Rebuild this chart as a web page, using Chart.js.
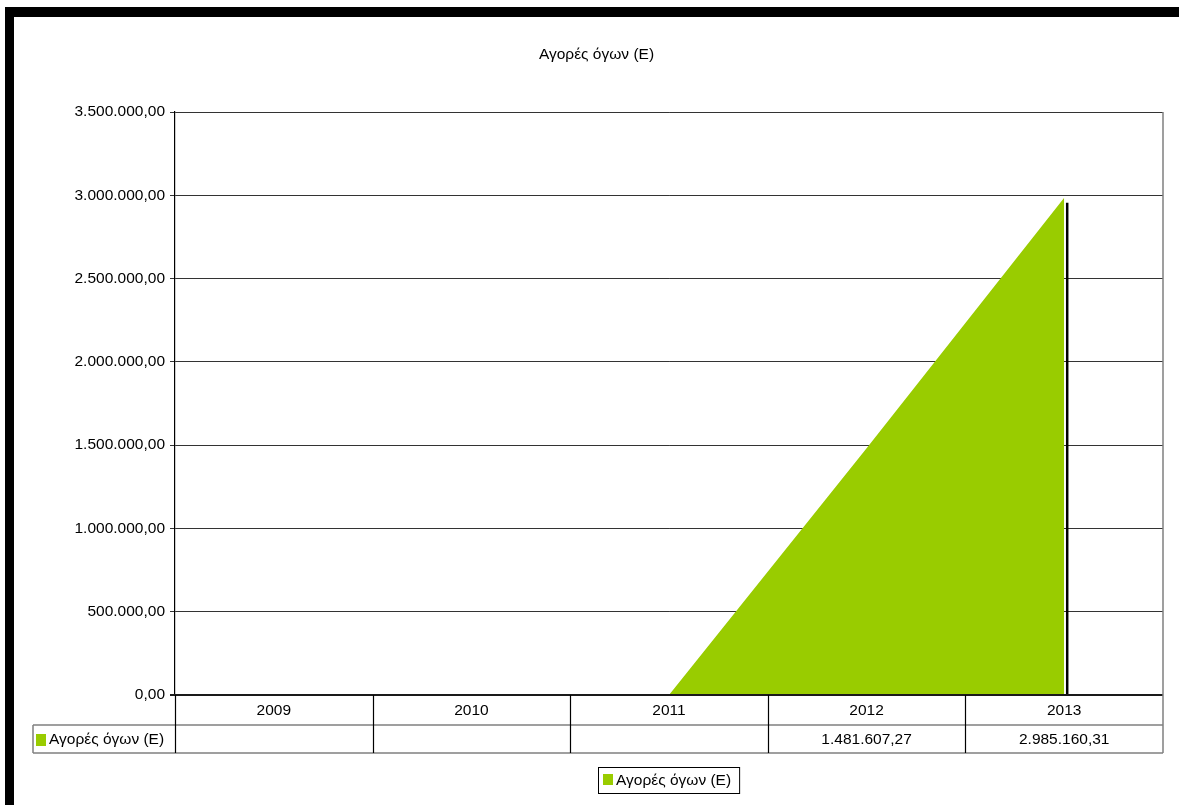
<!DOCTYPE html>
<html>
<head>
<meta charset="utf-8">
<script src="https://cdn.jsdelivr.net/npm/chart.js@4/dist/chart.umd.min.js"></script>
<style>
  html, body { margin: 0; padding: 0; background: #fff; }
  #wrap { position: absolute; left: 0; top: 0; width: 1179px; height: 805px; }
  #c { position: absolute; left: 0; top: 0; }
  .bar { position: absolute; background: #000; }
</style>
</head>
<body>
<div id="wrap">
  <canvas id="c" width="1179" height="805"></canvas>
  <div class="bar" style="left:5px;top:7px;width:1174px;height:10px;"></div>
  <div class="bar" style="left:5px;top:7px;width:9px;height:798px;"></div>
</div>
<script>
const chartTitle = 'Αγορές όγων (Ε)';
const seriesName = 'Αγορές όγων (Ε)';
const categories = ['2009', '2010', '2011', '2012', '2013'];
const seriesValues = [null, null, null, 1481607.27, 2985160.31];
const yTicks = [0, 500000, 1000000, 1500000, 2000000, 2500000, 3000000, 3500000];

const FONT = '15.5px "Liberation Sans", Arial, sans-serif';
const GREEN = '#99cc00';

function fmt(v) {
  const neg = v < 0;
  v = Math.abs(v);
  const fixed = v.toFixed(2);
  let [intPart, dec] = fixed.split('.');
  intPart = intPart.replace(/\B(?=(\d{3})+(?!\d))/g, '.');
  return (neg ? '-' : '') + intPart + ',' + dec;
}

const decor = {
  id: 'decor',
  afterDatasetsDraw(chart) {
    const ctx = chart.ctx;
    const area = chart.chartArea;
    const xs = chart.scales.x;
    const ys = chart.scales.y;
    // shadow edge at the last point
    const meta = chart.getDatasetMeta(0);
    const last = meta.data[meta.data.length - 1];
    ctx.save();
    ctx.strokeStyle = '#000';
    ctx.lineWidth = 2.5;
    ctx.beginPath();
    ctx.moveTo(last.x + 3, last.y + 5);
    ctx.lineTo(last.x + 3, area.bottom);
    ctx.stroke();
    // baseline
    ctx.lineWidth = 2;
    ctx.strokeStyle = '#1a1a1a';
    ctx.beginPath();
    ctx.moveTo(area.left - 5, area.bottom);
    ctx.lineTo(area.right, area.bottom);
    ctx.stroke();
    ctx.restore();
  },
  afterDraw(chart) {
    const ctx = chart.ctx;
    const area = chart.chartArea;
    const xs = chart.scales.x;
    const n = categories.length;
    const colW = (area.right - area.left) / n;
    const row1Top = area.bottom, row1Bot = area.bottom + 30;
    const row2Bot = row1Bot + 28;
    const labelLeft = 33;
    ctx.save();
    // title
    ctx.font = FONT;
    ctx.fillStyle = '#000';
    ctx.textAlign = 'center';
    ctx.textBaseline = 'middle';
    ctx.fillText(chartTitle, (14 + chart.width) / 2, 55);

    // table horizontal lines (gray)
    ctx.strokeStyle = '#808080';
    ctx.lineWidth = 1.5;
    ctx.beginPath();
    ctx.moveTo(labelLeft, row1Bot); ctx.lineTo(area.right, row1Bot);
    ctx.moveTo(labelLeft, row2Bot); ctx.lineTo(area.right, row2Bot);
    ctx.moveTo(labelLeft, row1Bot); ctx.lineTo(labelLeft, row2Bot);
    ctx.moveTo(area.right, area.top); ctx.lineTo(area.right, row2Bot);
    ctx.stroke();
    // vertical separators (black)
    ctx.strokeStyle = '#000';
    ctx.lineWidth = 1.2;
    ctx.beginPath();
    for (let i = 0; i < n; i++) {
      const x = Math.round(area.left + i * colW) + 0.5;
      ctx.moveTo(x, row1Top); ctx.lineTo(x, row2Bot);
    }
    ctx.stroke();
    // texts
    ctx.fillStyle = '#000';
    ctx.textAlign = 'center';
    for (let i = 0; i < n; i++) {
      const cx = xs.getPixelForValue(i);
      ctx.fillText(categories[i], cx, (row1Top + row1Bot) / 2 + 1);
      if (seriesValues[i] !== null) ctx.fillText(fmt(seriesValues[i]), cx, (row1Bot + row2Bot) / 2 + 1);
    }
    // series label
    ctx.fillStyle = GREEN;
    ctx.fillRect(36, 734, 10, 12);
    ctx.fillStyle = '#000';
    ctx.textAlign = 'left';
    ctx.fillText(seriesName, 49, (row1Bot + row2Bot) / 2 + 1);

    // legend
    const tw = ctx.measureText(seriesName).width;
    const boxW = tw + 26, boxH = 26;
    const bx = Math.round((area.left + area.right) / 2 - boxW / 2);
    const by = 767;
    ctx.strokeStyle = '#000';
    ctx.lineWidth = 1;
    ctx.strokeRect(bx + 0.5, by + 0.5, boxW, boxH);
    ctx.fillStyle = GREEN;
    ctx.fillRect(bx + 5, by + 7, 10, 11);
    ctx.fillStyle = '#000';
    ctx.fillText(seriesName, bx + 18, by + boxH / 2 + 1);
    ctx.restore();
  }
};

new Chart(document.getElementById('c'), {
  type: 'line',
  data: {
    labels: categories,
    datasets: [{
      label: seriesName,
      data: seriesValues.map(v => v === null ? 0 : v),
      backgroundColor: GREEN,
      borderWidth: 0,
      borderColor: GREEN,
      pointRadius: 0,
      fill: 'origin',
      tension: 0
    }]
  },
  options: {
    responsive: false,
    animation: false,
    layout: { padding: { top: 112, bottom: 110, right: 16, left: 0 } },
    plugins: { legend: { display: false }, title: { display: false }, tooltip: { enabled: false } },
    scales: {
      x: { type: 'category', display: false, offset: true },
      y: {
        min: 0, max: 3500000,
        afterBuildTicks(scale) { scale.ticks = yTicks.map(v => ({ value: v })); },
        afterFit(scale) { scale.width = 175; },
        ticks: { color: '#000', font: { family: '"Liberation Sans", Arial, sans-serif', size: 15.5 }, padding: 5, callback: v => fmt(v) },
        grid: { color: '#333', lineWidth: 1, tickLength: 5, tickColor: '#333' },
        border: { display: true, color: '#000', width: 1.2 }
      }
    }
  },
  plugins: [decor]
});
</script>
</body>
</html>
